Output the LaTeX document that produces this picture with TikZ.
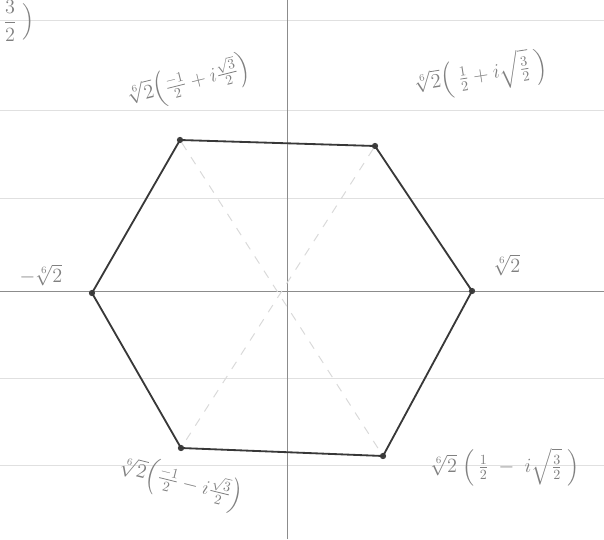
\documentclass[tikz,border=0pt]{standalone}
\usepackage{amsmath}
\usepackage{amssymb}
\usepackage{tikz}
\usetikzlibrary{arrows.meta}
\usepackage{xcolor}

\begin{document}
\begin{tikzpicture}[
  ruled/.style={black!12, line width=0.6pt},
  axis/.style={black!45, line width=0.5pt},
  edge/.style={black!78, line width=1.3pt, line join=round},
  guide/.style={black!15, dashed, dash pattern=on 6pt off 6pt, line width=0.7pt},
  dot/.style={circle, fill=black!75, inner sep=0pt, minimum size=4.5pt},
  lbl/.style={text=black!50, font=\Large}]
  \useasboundingbox (-7.175,-6.2) rectangle (7.925,7.275);
  \foreach \y in {6.775,4.525,2.325,-2.175,-4.35}
    \draw[ruled] (-7.175,\y) -- (7.925,\y);
  \coordinate (xl) at (-7.175,0);
  \coordinate (xr) at (7.925,0);
  \coordinate (yt) at (0,7.275);
  \coordinate (yb) at (0,-6.2);
  \draw[axis] (xl) -- (xr);
  \draw[axis] (yb) -- (yt);
  \node[dot] (v1) at (-2.675,3.775) {};
  \node[dot] (v2) at (2.2,3.625) {};
  \node[dot] (v3) at (4.625,0) {};
  \node[dot] (v4) at (2.4,-4.125) {};
  \node[dot] (v5) at (-2.65,-3.925) {};
  \node[dot] (v6) at (-4.875,-0.05) {};
  \draw[guide] (v1) -- (v4);
  \draw[guide] (v2) -- (v5);
  \draw[edge] (v1.center) -- (v2.center) -- (v3.center) -- (v4.center)
    -- (v5.center) -- (v6.center) -- cycle;
  \node[lbl] (top) at (-6.7,6.75) {$\dfrac{3}{2}\;\Big)$};
  \node[lbl, rotate=14] (l1) at (-2.45,5.2)
    {$\sqrt[6]{2}\Big(\frac{-1}{2}+i\frac{\sqrt{3}}{2}\Big)$};
  \node[lbl, rotate=9] (l2) at (4.85,5.4)
    {$\sqrt[6]{2}\Big(\;\frac{1}{2}+i\sqrt{\tfrac{3}{2}}\;\Big)$};
  \node[lbl] (l3) at (5.5,0.65) {$\sqrt[6]{2}$};
  \node[lbl] (l6) at (-6.15,0.4) {$-\sqrt[6]{2}$};
  \node[lbl, rotate=-14] (l5) at (-2.65,-4.8)
    {$\sqrt[6]{2}\Big(\frac{-1}{2}-i\frac{\sqrt{3}}{2}\Big)$};
  \node[lbl] (l4) at (5.45,-4.4)
    {$\sqrt[6]{2}\;\Big(\,\frac{1}{2}\;-\;i\sqrt{\tfrac{3}{2}}\;\Big)$};
\end{tikzpicture}
\end{document}
